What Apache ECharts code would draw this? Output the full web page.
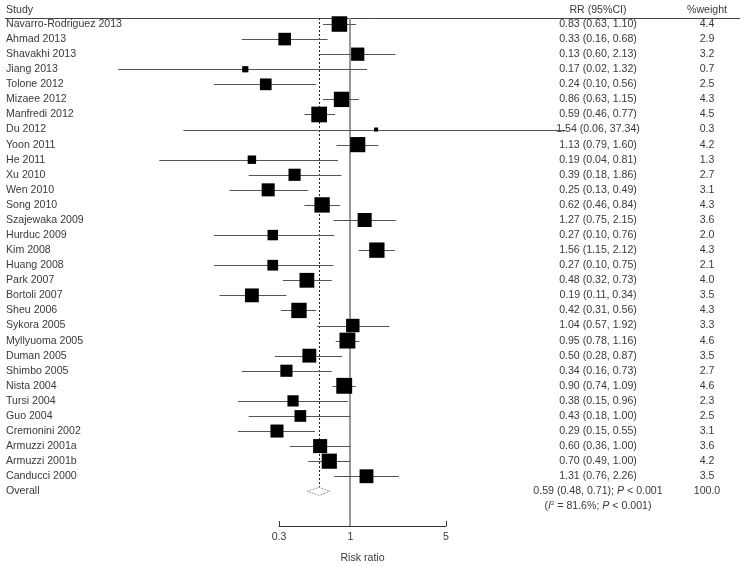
<!DOCTYPE html>
<html>
<head>
<meta charset="utf-8">
<script src="https://cdn.jsdelivr.net/npm/echarts@6/dist/echarts.min.js"></script>
<style>
  html, body { margin: 0; background: #fff; }
  #chart { width: 744px; height: 567px; }
</style>
</head>
<body>
<div id="chart"></div>
<script>
const studies = [
  'Navarro-Rodriguez 2013', 'Ahmad 2013', 'Shavakhi 2013', 'Jiang 2013', 'Tolone 2012',
  'Mizaee 2012', 'Manfredi 2012', 'Du 2012', 'Yoon 2011', 'He 2011',
  'Xu 2010', 'Wen 2010', 'Song 2010', 'Szajewaka 2009', 'Hurduc 2009',
  'Kim 2008', 'Huang 2008', 'Park 2007', 'Bortoli 2007', 'Sheu 2006',
  'Sykora 2005', 'Myllyuoma 2005', 'Duman 2005', 'Shimbo 2005', 'Nista 2004',
  'Tursi 2004', 'Guo 2004', 'Cremonini 2002', 'Armuzzi 2001a', 'Armuzzi 2001b',
  'Canducci 2000'
]
// plotted estimates (Shavakhi box sits at 1.13 although printed 0.13)
const rr = [0.83, 0.33, 1.13, 0.17, 0.24, 0.86, 0.59, 1.54, 1.13, 0.19,
  0.39, 0.25, 0.62, 1.27, 0.27, 1.56, 0.27, 0.48, 0.19, 0.42,
  1.04, 0.95, 0.50, 0.34, 0.90, 0.38, 0.43, 0.29, 0.60, 0.70, 1.31]
const lower = [0.63, 0.16, 0.60, 0.02, 0.10, 0.63, 0.46, 0.06, 0.79, 0.04,
  0.18, 0.13, 0.46, 0.75, 0.10, 1.15, 0.10, 0.32, 0.11, 0.31,
  0.57, 0.78, 0.28, 0.16, 0.74, 0.15, 0.18, 0.15, 0.36, 0.49, 0.76]
const upper = [1.10, 0.68, 2.13, 1.32, 0.56, 1.15, 0.77, 37.34, 1.60, 0.81,
  0.86, 0.49, 0.84, 2.15, 0.76, 2.12, 0.75, 0.73, 0.34, 0.56,
  1.92, 1.16, 0.87, 0.73, 1.09, 0.96, 1.00, 0.55, 1.00, 1.00, 2.26]
const weight = [4.4, 2.9, 3.2, 0.7, 2.5, 4.3, 4.5, 0.3, 4.2, 1.3,
  2.7, 3.1, 4.3, 3.6, 2.0, 4.3, 2.1, 4.0, 3.5, 4.3,
  3.3, 4.6, 3.5, 2.7, 4.6, 2.3, 2.5, 3.1, 3.6, 4.2, 3.5]
// labels printed differently from what is drawn
const printedLabel = { 2: '0.13 (0.60, 2.13)', 10: '0.39 (0.18, 1.86)' }

const overallRR = 0.59
const overallCI = [0.48, 0.71]
const overallWeight = 100.0
const tickValues = [0.3, 1, 5]

const ln = Math.log
const FONT = 'Liberation Sans'
const TXT = '#3a3a3a'
const FS = 10.6

const COL_NAME = 6
const COL_RR = 598
const COL_W = 707
const Y_MIN = -0.4
const Y_MAX = 33.3

function label(i) {
  if (printedLabel[i]) return printedLabel[i]
  return `${rr[i].toFixed(2)} (${lower[i].toFixed(2)}, ${upper[i].toFixed(2)})`
}

function txt(x, y, text, align, extra) {
  return {
    type: 'text', x, y,
    style: Object.assign({
      text, fill: TXT, font: `${FS}px "${FONT}"`,
      align: align || 'left', verticalAlign: 'middle'
    }, extra || {})
  }
}

const rows = studies.map((s, i) => [ln(rr[i]), i, ln(lower[i]), ln(upper[i]), weight[i]])
const overallIdx = studies.length

const chart = echarts.init(document.getElementById('chart'), null, { renderer: 'canvas' })

chart.setOption({
  animation: false,
  grid: { left: 279, right: 298, top: 18, bottom: 41, outerBoundsMode: 'none', containLabel: false },
  xAxis: {
    type: 'value',
    min: ln(0.3),
    max: ln(5),
    splitLine: { show: false },
    axisLine: { onZero: false, lineStyle: { color: '#333', width: 1 } },
    axisTick: { inside: true, length: 5, customValues: tickValues.map(ln), lineStyle: { color: '#333' } },
    axisLabel: {
      customValues: tickValues.map(ln),
      formatter: v => String(+Math.exp(v).toFixed(1)),
      color: TXT, fontFamily: FONT, fontSize: FS, margin: 6
    },
    name: 'Risk ratio',
    nameLocation: 'middle',
    nameGap: 27,
    nameTextStyle: { color: TXT, fontFamily: FONT, fontSize: FS }
  },
  yAxis: { type: 'value', inverse: true, min: Y_MIN, max: Y_MAX, show: false },
  graphic: [
    { type: 'line', shape: { x1: 5, y1: 18.5, x2: 740, y2: 18.5 }, style: { stroke: '#444', lineWidth: 1 } },
    txt(COL_NAME, 10, 'Study'),
    txt(COL_RR, 10, 'RR (95%CI)', 'center'),
    txt(COL_W, 10, '%weight', 'center')
  ],
  series: [
    {
      type: 'custom',
      name: 'ref',
      data: [[0]],
      silent: true,
      renderItem: (params, api) => {
        const x = Math.round(api.coord([0, 0])[0])
        const top = api.coord([0, Y_MIN])[1]
        const bot = api.coord([0, Y_MAX])[1]
        const xd = Math.round(api.coord([ln(overallRR), 0])[0]) + 0.5
        const yd = api.coord([0, overallIdx])[1]
        return {
          type: 'group', children: [
            { type: 'line', shape: { x1: x, y1: top, x2: x, y2: bot }, style: { stroke: '#999', lineWidth: 2 } },
            { type: 'line', shape: { x1: xd, y1: top, x2: xd, y2: yd - 4 }, style: { stroke: '#222', lineWidth: 1, lineDash: [2, 2] } }
          ]
        }
      }
    },
    {
      type: 'custom',
      name: 'studies',
      data: rows,
      clip: false,
      renderItem: (params, api) => {
        const i = api.value(1)
        const y = api.coord([0, i])[1]
        const yl = Math.round(y) + 0.5
        const lo = api.coord([api.value(2), 0])[0]
        const hi = api.coord([api.value(3), 0])[0]
        const c = api.coord([api.value(0), 0])[0]
        const s = 7.4 * Math.sqrt(api.value(4))
        return {
          type: 'group', children: [
            { type: 'line', shape: { x1: lo, y1: yl, x2: hi, y2: yl }, style: { stroke: '#555', lineWidth: 1 } },
            { type: 'rect', shape: { x: c - s / 2, y: y - s / 2, width: s, height: s }, style: { fill: '#000' } },
            txt(COL_NAME, y, studies[i]),
            txt(COL_RR, y, label(i), 'center'),
            txt(COL_W, y, weight[i].toFixed(1), 'center')
          ]
        }
      }
    },
    {
      type: 'custom',
      name: 'overall',
      data: [[ln(overallRR), overallIdx, ln(overallCI[0]), ln(overallCI[1])]],
      clip: false,
      renderItem: (params, api) => {
        const y = api.coord([0, api.value(1)])[1]
        const lo = api.coord([api.value(2), 0])[0]
        const hi = api.coord([api.value(3), 0])[0]
        const c = api.coord([api.value(0), 0])[0]
        const h = 4
        return {
          type: 'group', children: [
            {
              type: 'polygon',
              shape: { points: [[lo, y], [c, y - h], [hi, y], [c, y + h]] },
              style: { fill: '#fff', stroke: '#999', lineWidth: 1, lineDash: [2, 1] }
            },
            txt(COL_NAME, y, 'Overall'),
            {
              type: 'text', x: COL_RR, y,
              style: {
                text: `${overallRR.toFixed(2)} (${overallCI[0].toFixed(2)}, ${overallCI[1].toFixed(2)}); {i|P} < 0.001`,
                fill: TXT, font: `${FS}px "${FONT}"`, align: 'center', verticalAlign: 'middle',
                rich: { i: { fontStyle: 'italic', fontFamily: FONT, fontSize: FS, fill: TXT } }
              }
            },
            {
              type: 'text', x: COL_RR, y: y + 15,
              style: {
                text: '({i|I}{s|2} = 81.6%; {i|P} < 0.001)',
                fill: TXT, font: `${FS}px "${FONT}"`, align: 'center', verticalAlign: 'middle',
                rich: {
                  i: { fontStyle: 'italic', fontFamily: FONT, fontSize: FS, fill: TXT },
                  s: { fontFamily: FONT, fontSize: 6, fill: TXT, verticalAlign: 'top', padding: [0, 0, 6, 0] }
                }
              }
            },
            txt(COL_W, y, overallWeight.toFixed(1), 'center')
          ]
        }
      }
    }
  ]
})
</script>
</body>
</html>
